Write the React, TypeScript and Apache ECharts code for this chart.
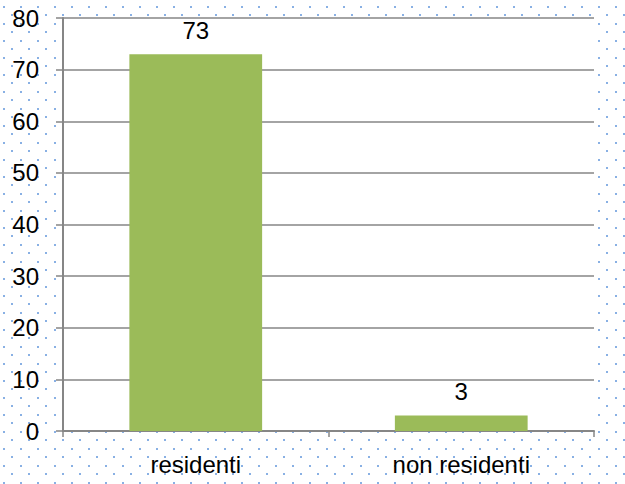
import React, { useEffect, useRef } from "react";
import * as echarts from "echarts";

const categories = ["residenti", "non residenti"];
const values = [73, 3];
const yMin = 0;
const yMax = 80;
const yStep = 10;

const dotSvg =
  "data:image/svg+xml;utf8," +
  encodeURIComponent(
    "<svg xmlns='http://www.w3.org/2000/svg' width='17' height='17' shape-rendering='crispEdges'>" +
      "<rect x='3' y='6' width='2' height='2' fill='#89b0e4'/>" +
      "<rect x='11' y='14' width='2' height='2' fill='#89b0e4'/>" +
      "</svg>"
  );

export default function App() {
  const ref = useRef<HTMLDivElement>(null);
  useEffect(() => {
    if (!ref.current) return;
    const chart = echarts.init(ref.current, undefined, { renderer: "svg" });
    const font = "'Liberation Sans', Arial, sans-serif";
    chart.setOption({
      animation: false,
      grid: {
        left: 63,
        right: 31,
        top: 18,
        bottom: 53,
        show: true,
        backgroundColor: "#ffffff",
        borderWidth: 0,
      },
      xAxis: {
        type: "category",
        data: categories,
        axisLine: { lineStyle: { color: "#868686", width: 2 } },
        axisTick: { show: true, length: 6, lineStyle: { color: "#868686", width: 1.5 } },
        axisLabel: { color: "#000", fontSize: 24, fontFamily: font, margin: 21 },
      },
      yAxis: {
        type: "value",
        min: yMin,
        max: yMax,
        interval: yStep,
        axisLine: { show: true, lineStyle: { color: "#868686", width: 2 } },
        axisTick: { show: true, length: 7, lineStyle: { color: "#868686", width: 1.5 } },
        splitLine: { show: true, lineStyle: { color: "#868686", width: 1.5 } },
        axisLabel: { color: "#000", fontSize: 24, fontFamily: font, margin: 24 },
      },
      series: [
        {
          type: "bar",
          data: values,
          barWidth: "50%",
          itemStyle: { color: "#9bbb59" },
          label: {
            show: true,
            position: "top",
            distance: 12,
            color: "#000",
            fontSize: 24,
            fontFamily: font,
          },
        },
      ],
    });
    return () => chart.dispose();
  }, []);
  return (
    <div
      style={{
        position: "fixed",
        left: 0,
        top: 0,
        width: 625,
        height: 484,
        backgroundColor: "#fff",
        backgroundImage: `url("${dotSvg}")`,
        backgroundRepeat: "repeat",
      }}
    >
      <div ref={ref} style={{ width: 625, height: 484 }} />
    </div>
  );
}
